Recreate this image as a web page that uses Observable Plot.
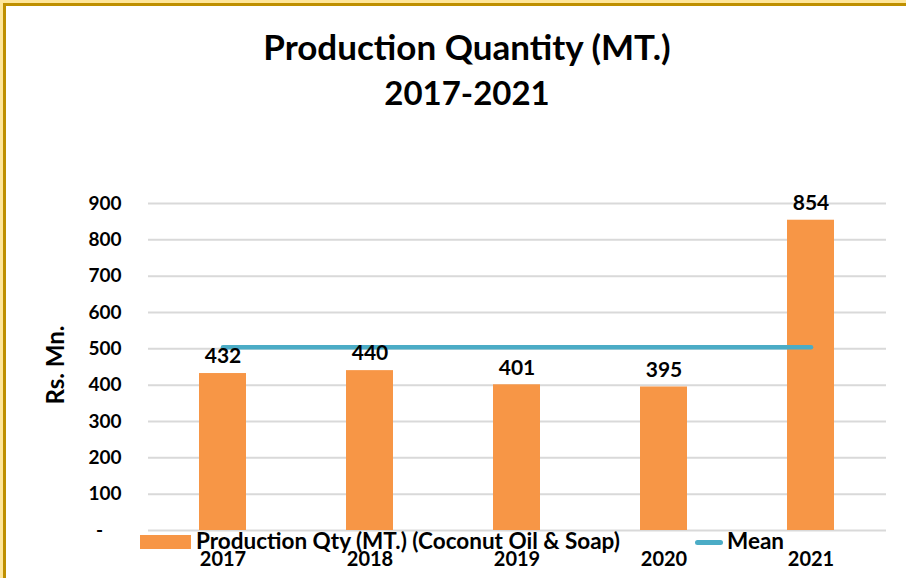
<!DOCTYPE html>
<html>
<head>
<meta charset="utf-8">
<script src="https://cdn.jsdelivr.net/npm/d3@7"></script>
<script src="https://cdn.jsdelivr.net/npm/@observablehq/plot@0.6"></script>
<style>
  html, body { margin: 0; padding: 0; }
  body { width: 906px; height: 578px; overflow: hidden; background: #FFE699; font-family: Lato, "Open Sans", sans-serif; }
  #frame { position: absolute; left: 3px; top: 3px; width: 903px; height: 575px; border-left: 3px solid #BF9000; border-top: 3px solid #BF9000; background: #fff; }
  #wrap { position: absolute; left: 0; top: 0; width: 906px; height: 578px; }
  .title { position: absolute; left: 14px; width: 906px; text-align: center; font-weight: 700; color: #000; line-height: 1; }
  #chart { position: absolute; left: 0; top: 130px; }
  .leg { position: absolute; font-weight: 700; font-size: 22.5px; color: #000; line-height: 1; white-space: nowrap; }
  #ylab { position: absolute; left: 55px; top: 365px; transform: translate(-50%, -50%) rotate(-90deg); font-weight: 700; font-size: 24px; line-height: 1; white-space: nowrap; color: #000; }
</style>
</head>
<body>
<div id="frame"></div>
<div id="wrap">
  <div class="title" style="top:29px; font-size:35px;">Production Quantity (MT.)</div>
  <div class="title" style="top:76px; font-size:33px;">2017-2021</div>
  <div id="chart"></div>
  <div id="ylab"></div>
  <div class="leg" style="left:140px; top:535px; width:51px; height:14px; background:#F79646;"></div>
  <div class="leg" id="legText1" style="left:196px; top:530px;"></div>
  <div class="leg" style="left:695px; top:540px; width:28px; height:5px; border-radius:3px; background:#4BACC6;"></div>
  <div class="leg" id="legText2" style="left:727px; top:530px;"></div>
</div>
<script>
const years = ["2017", "2018", "2019", "2020", "2021"];
const production = [432, 440, 401, 395, 854];
const yTicks = [0, 100, 200, 300, 400, 500, 600, 700, 800, 900];
const seriesName = "Production Qty (MT.) (Coconut Oil & Soap)";
const meanName = "Mean";
const yLabel = "Rs. Mn.";

document.getElementById("legText1").textContent = seriesName;
document.getElementById("legText2").textContent = meanName;
document.getElementById("ylab").textContent = yLabel;

const data = years.map((y, i) => ({year: y, value: production[i]}));
const meanValue = d3.mean(production);
const meanData = years.map(y => ({year: y, value: meanValue}));

const chart = Plot.plot({
  width: 906,
  height: 448,
  marginLeft: 148,
  marginRight: 20,
  marginTop: 73,
  marginBottom: 48,
  style: {fontFamily: "Lato, 'Open Sans', sans-serif", background: "transparent", color: "#000"},
  x: {domain: years, paddingInner: 0.68, paddingOuter: 0.34, label: null},
  y: {domain: [0, 900], label: null},
  marks: [
    Plot.ruleY(yTicks, {stroke: "#D9D9D9", strokeWidth: 2}),
    Plot.barY(data, {x: "year", y: "value", fill: "#F79646"}),
    Plot.line(meanData, {x: "year", y: "value", stroke: "#4BACC6", strokeWidth: 4.5, strokeLinecap: "round"}),
    Plot.text(data, {x: "year", y: "value", text: d => String(d.value), dy: -17, fontSize: 21, fontWeight: 700, fill: "#000"}),
    Plot.axisX({tickSize: 0, tickPadding: 21, fontSize: 20, fontWeight: 700, label: null}),
    Plot.axisY({ticks: yTicks, tickSize: 0, tickPadding: 27, fontSize: 19, fontWeight: 700,
      tickFormat: d => d === 0 ? "-\u00a0\u00a0\u00a0\u00a0" : String(d),
      label: null})
  ]
});
document.getElementById("chart").appendChild(chart);
</script>
</body>
</html>
